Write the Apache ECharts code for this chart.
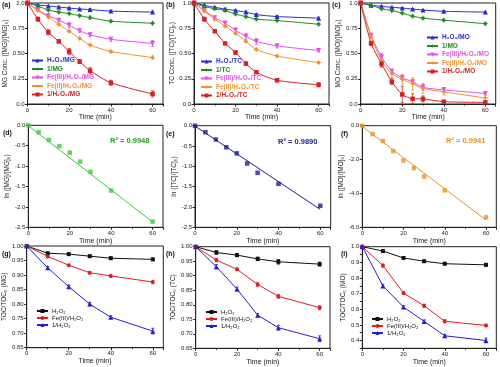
<!DOCTYPE html>
<html><head><meta charset="utf-8">
<script src="https://cdn.jsdelivr.net/npm/echarts@6/dist/echarts.min.js"></script>
<style>html,body{margin:0;padding:0;background:#fff}#c{width:500px;height:367px}</style>
</head><body><div id="c"></div>
<script>
// ---------- data ----------
const T1 = [0,5,10,15,20,25,30,40,60];
const T3 = [0,10,20,30,40,60];
const xTicks = [0,20,40,60];

// (a) MG
const aH2O2 = [1,0.98,0.97,0.96,0.95,0.94,0.935,0.92,0.91];
const a1    = [1,0.97,0.93,0.91,0.895,0.875,0.855,0.82,0.80];
const aFe3  = [1,0.93,0.875,0.83,0.78,0.725,0.685,0.64,0.60];
const aFe2  = [1,0.925,0.86,0.79,0.72,0.65,0.585,0.52,0.46];
const aCat  = [1,0.84,0.71,0.62,0.52,0.42,0.33,0.21,0.10];
const aH2O2e = [0,0.008,0.008,0.008,0.008,0.008,0.008,0.008,0.01];
const a1e    = [0,0.008,0.01,0.01,0.01,0.01,0.015,0.01,0.01];
const aFe3e  = [0,0.01,0.015,0.015,0.025,0.015,0.02,0.02,0.03];
const aFe2e  = [0,0.01,0.01,0.01,0.01,0.01,0.01,0.01,0.015];
const aCate  = [0,0.02,0.025,0.015,0.03,0.02,0.03,0.025,0.03];

// (b) TC
const bH2O2 = [1,0.977,0.957,0.94,0.925,0.91,0.885,0.866,0.85];
const b1    = [1,0.964,0.944,0.925,0.89,0.865,0.84,0.826,0.79];
const bFe3  = [1,0.925,0.855,0.80,0.73,0.67,0.62,0.575,0.53];
const bFe2  = [1,0.92,0.84,0.77,0.70,0.62,0.54,0.475,0.41];
const bCat  = [1,0.84,0.72,0.60,0.51,0.40,0.315,0.235,0.19];
const bH2O2e = [0,0.01,0.01,0.01,0.01,0.01,0.01,0.01,0.01];
const b1e    = [0,0.01,0.01,0.01,0.01,0.01,0.01,0.01,0.01];
const bFe3e  = [0,0.01,0.015,0.02,0.025,0.03,0.03,0.02,0.015];
const bFe2e  = [0,0.01,0.01,0.01,0.01,0.01,0.01,0.01,0.01];
const bCate  = [0,0.02,0.01,0.01,0.015,0.015,0.01,0.015,0.02];

// (c) MO
const cH2O2 = [1,0.977,0.967,0.957,0.95,0.94,0.93,0.918,0.91];
const c1    = [1,0.977,0.944,0.925,0.90,0.87,0.85,0.83,0.795];
const cFe3  = [1,0.68,0.465,0.325,0.26,0.22,0.165,0.14,0.105];
const cFe2  = [1,0.67,0.43,0.30,0.245,0.20,0.155,0.12,0.06];
const cCat  = [1,0.60,0.40,0.22,0.095,0.052,0.05,0.023,0.016];
const cH2O2e = [0,0.005,0.005,0.005,0.005,0.005,0.005,0.005,0.005];
const c1e    = [0,0.01,0.01,0.01,0.01,0.01,0.01,0.01,0.01];
const cFe3e  = [0,0.02,0.03,0.02,0.02,0.02,0.03,0.02,0.01];
const cFe2e  = [0,0.02,0.07,0.04,0.05,0.06,0.05,0.03,0.03];
const cCate  = [0,0.02,0.03,0.03,0.08,0.05,0.03,0.01,0.01];

// (d)(e)(f) ln plots
const dLn = [0,-0.17,-0.36,-0.51,-0.67,-0.89,-1.14,-1.60,-2.36];
const eLn = [0,-0.16,-0.34,-0.53,-0.68,-0.93,-1.16,-1.43,-1.97];
const fLn = [0,-0.49,-0.90,-1.50,-2.05,-2.50,-3.00,-3.82,-5.41];
const fitT = [0,60];
const dFit = [-0.01,-2.37];
const eFit = [-0.01,-2.06];
const fFit = [-0.05,-5.57];
const r2 = ['R\u00b2 = 0.9948','R\u00b2 = 0.9890','R\u00b2 = 0.9941'];

// (g)(h)(i) TOC
const gH2O2 = [1,0.975,0.972,0.965,0.958,0.954];
const gFe3  = [1,0.964,0.934,0.908,0.897,0.876];
const gCat  = [1,0.925,0.860,0.800,0.755,0.707];
const hH2O2 = [1,0.98,0.971,0.958,0.948,0.94];
const hFe3  = [1,0.954,0.922,0.870,0.829,0.79];
const hCat  = [1,0.931,0.854,0.764,0.721,0.683];
const iH2O2 = [1,0.972,0.928,0.907,0.891,0.884];
const iFe3  = [1,0.879,0.704,0.622,0.523,0.496];
const iCat  = [1,0.749,0.614,0.522,0.43,0.40];
const gH2O2e = [0,0.003,0.003,0.003,0.004,0.004];
const gFe3e  = [0,0.004,0.003,0.004,0.005,0.006];
const gCate  = [0,0.005,0.006,0.006,0.005,0.01];
const hH2O2e = [0,0.006,0.005,0.006,0.008,0.007];
const hFe3e  = [0,0.006,0.004,0.006,0.007,0.007];
const hCate  = [0,0.008,0.007,0.006,0.008,0.01];
const iH2O2e = [0,0.005,0.008,0.008,0.005,0.007];
const iFe3e  = [0,0.01,0.01,0.01,0.01,0.008];
const iCate  = [0,0.01,0.01,0.01,0.01,0.015];

const panelLabels = ['(a)','(b)','(c)','(d)','(e)','(f)','(g)','(h)','(i)'];
const yNames = ['MG Conc. ([MG]/[MG]\u2080)','TC Conc. ([TC]/[TC]\u2080)','MO Conc. ([MO]/[MO]\u2080)',
  'ln ([MG]/[MG]\u2080)','ln ([TC]/[TC]\u2080)','ln ([MO]/[MO]\u2080)',
  'TOC/TOC\u2080 (MG)','TOC/TOC\u2080 (TC)','TOC/TOC\u2080 (MO)'];
const namesA = ['H\u2082O\u2082/MG','1/MG','Fe(III)/H\u2082O\u2082/MG','Fe(II)/H\u2082O\u2082/MG','1/H\u2082O\u2082/MG'];
const namesB = ['H\u2082O\u2082/TC','1/TC','Fe(III)/H\u2082O\u2082/TC','Fe(II)/H\u2082O\u2082/TC','1/H\u2082O\u2082/TC'];
const namesC = ['H\u2082O\u2082/MO','1/MO','Fe(III)/H\u2082O\u2082/MO','Fe(II)/H\u2082O\u2082/MO','1/H\u2082O\u2082/MO'];
const names3 = ['H\u2082O\u2082','Fe(III)/H\u2082O\u2082','1/H\u2082O\u2082'];

// ---------- styles ----------
const FONT = 'Arial, "Liberation Sans", sans-serif';
const AX = '#222';
const C1 = ['#2b2bd0','#1f8a1f','#e64fe6','#f0922c','#d42222'];
const STAR = 'path://M0,-10 L3,-3 L10,0 L3,3 L0,10 L-3,3 L-10,0 L-3,-3 Z';
const SYM1 = ['triangle', STAR, 'triangle', STAR, 'rect'];
const ROT1 = [0,0,180,0,0];
const SZ1 = [5,6,5,6,4.5];
const C3 = ['#111','#e02020','#2222d0'];
const SYM3 = ['rect','circle','triangle'];
const SZ3 = [4,4,5];
const C2 = ['#3ccc3c','#1c1c90','#e8922c'];
const C2txt = ['#24a024','#1c1c90','#e8922c'];

const grids = [
  {left:27.5, top:2.5, width:135.5, height:101.5},
  {left:194, top:2.5, width:135, height:101.5},
  {left:360.7, top:2.5, width:135, height:101.5},
  {left:28.3, top:125.3, width:134.7, height:102},
  {left:195, top:125.7, width:135.7, height:101.6},
  {left:362.3, top:125.7, width:134, height:101.6},
  {left:26.7, top:246, width:136.6, height:101.7},
  {left:195.7, top:246.7, width:134.3, height:101.6},
  {left:362.3, top:246.7, width:134, height:101.6}
];

const yCfg = [
  {min:0,max:1,interval:0.25,fmt:v=>(v===0||v===1)?v.toFixed(1):v.toFixed(2),gap:15},
  {min:0,max:1,interval:0.25,fmt:v=>(v===0||v===1)?v.toFixed(1):v.toFixed(2),gap:15},
  {min:0,max:1,interval:0.25,fmt:v=>(v===0||v===1)?v.toFixed(1):v.toFixed(2),gap:15},
  {min:-2.5,max:0,interval:0.5,fmt:v=>v.toFixed(1),gap:16},
  {min:-2.5,max:0,interval:0.5,fmt:v=>v.toFixed(1),gap:16},
  {min:-6,max:0,interval:2,fmt:v=>v.toFixed(1),gap:16},
  {min:0.65,max:1,interval:0.05,fmt:v=>v.toFixed(2),gap:16},
  {min:0.65,max:1,interval:0.05,fmt:v=>v.toFixed(2),gap:16},
  {min:0.35,max:1,interval:0.05,fmt:v=>Math.abs(v*10-Math.round(v*10))<1e-6?v.toFixed(1):'',gap:14}
];

const option = {
  animation:false,
  backgroundColor:'#fff',
  textStyle:{fontFamily:FONT},
  grid: grids.map(g=>Object.assign({show:true,borderColor:AX,borderWidth:1,backgroundColor:'transparent',containLabel:false},g)),
  xAxis: grids.map((g,i)=>({
    gridIndex:i, type:'value', min:0, max:65, interval:20,
    name:'Time (min)', nameLocation:'middle', nameGap: i>=6?10:8,
    nameTextStyle:{fontSize:7, color:AX, fontFamily:FONT},
    axisLine:{show:true,onZero:false,lineStyle:{color:AX,width:1}},
    axisTick:{show:true,inside:false,length:2.5,lineStyle:{color:AX}},
    minorTick:{show:true,splitNumber:2,length:1.5,lineStyle:{color:AX}},
    splitLine:{show:false},
    axisLabel:{fontSize:6,margin:3,color:AX,fontFamily:FONT,
      formatter:v=>xTicks.indexOf(v)>=0?String(v):''}
  })),
  yAxis: grids.map((g,i)=>({
    gridIndex:i, type:'value', min:yCfg[i].min, max:yCfg[i].max, interval:yCfg[i].interval,
    name:yNames[i], nameLocation:'middle', nameGap:yCfg[i].gap,
    nameTextStyle:{fontSize:6.5, color:AX, fontFamily:FONT},
    axisLine:{show:true,onZero:false,lineStyle:{color:AX,width:1}},
    axisTick:{show:true,inside:false,length:2.5,lineStyle:{color:AX}},
    splitLine:{show:false},
    axisLabel:{fontSize:6,margin:3,color:AX,fontFamily:FONT,formatter:yCfg[i].fmt}
  })),
  legend: [],
  series: [],
  graphic: []
};

function errSeries(gi, xs, ys, es, color){
  const d = [];
  xs.forEach((x,k)=>{ if(es[k]>0) d.push([x, ys[k]-es[k], ys[k]+es[k]]); });
  return {type:'custom', xAxisIndex:gi, yAxisIndex:gi, data:d, silent:true, z:3,
    renderItem:(params, api)=>{
      const x=api.value(0), lo=api.value(1), hi=api.value(2);
      const p1=api.coord([x,lo]), p2=api.coord([x,hi]);
      const st={stroke:color,lineWidth:0.8};
      return {type:'group',children:[
        {type:'line',shape:{x1:p1[0],y1:p1[1],x2:p2[0],y2:p2[1]},style:st},
        {type:'line',shape:{x1:p1[0]-1.5,y1:p1[1],x2:p1[0]+1.5,y2:p1[1]},style:st},
        {type:'line',shape:{x1:p2[0]-1.5,y1:p2[1],x2:p2[0]+1.5,y2:p2[1]},style:st}
      ]};
    }};
}
function lineSeries(gi, name, xs, ys, color, sym, size, rot, smooth){
  return {type:'line', name:name, xAxisIndex:gi, yAxisIndex:gi,
    data: xs.map((x,k)=>[x,ys[k]]), smooth:smooth, symbol:sym, symbolSize:size, symbolRotate:rot||0,
    itemStyle:{color:color}, lineStyle:{color:color,width:1}, z:4};
}

// Row 1
const row1 = [
  {gi:0, names:namesA, ys:[aH2O2,a1,aFe3,aFe2,aCat], es:[aH2O2e,a1e,aFe3e,aFe2e,aCate], lg:{left:31,top:57}},
  {gi:1, names:namesB, ys:[bH2O2,b1,bFe3,bFe2,bCat], es:[bH2O2e,b1e,bFe3e,bFe2e,bCate], lg:{left:200,top:58}},
  {gi:2, names:namesC, ys:[cH2O2,c1,cFe3,cFe2,cCat], es:[cH2O2e,c1e,cFe3e,cFe2e,cCate], lg:{left:426,top:34}}
];
row1.forEach(p=>{
  p.ys.forEach((ys,k)=>{
    option.series.push(errSeries(p.gi, T1, ys, p.es[k], C1[k]));
    option.series.push(lineSeries(p.gi, p.names[k], T1, ys, C1[k], SYM1[k], SZ1[k], ROT1[k], 0.25));
  });
  option.legend.push({left:p.lg.left, top:p.lg.top, orient:'vertical', itemWidth:11, itemHeight:5, itemGap:1.5,
    selectedMode:false, padding:0,
    textStyle:{fontSize:6.5, fontWeight:'bold', fontFamily:FONT, padding:[0,0,0,-1]},
    data:p.names.map((n,k)=>({name:n, textStyle:{color:C1[k]}}))});
});

// Row 2
const row2 = [dLn, eLn, fLn];
const fits = [dFit, eFit, fFit];
const r2pos = [[132,142],[300,143],[468,142]];
row2.forEach((ys,k)=>{
  const gi = 3+k;
  option.series.push({type:'line', xAxisIndex:gi, yAxisIndex:gi, data:fitT.map((x,j)=>[x,fits[k][j]]),
    symbol:'none', lineStyle:{color:C2[k], width:1}, z:3, silent:true});
  option.series.push({type:'scatter', xAxisIndex:gi, yAxisIndex:gi, data:T1.map((x,j)=>[x,ys[j]]),
    symbol:'rect', symbolSize:4.5, itemStyle:{color:C2[k]}, z:4});
  option.graphic.push({type:'text', left:r2pos[k][0]-22, top:r2pos[k][1]-5,
    style:{text:r2[k], fill:C2txt[k], font:'bold 7.5px '+FONT}});
});

// Row 3
const row3 = [
  {gi:6, ys:[gH2O2,gFe3,gCat], es:[gH2O2e,gFe3e,gCate], lg:{left:36,top:308}},
  {gi:7, ys:[hH2O2,hFe3,hCat], es:[hH2O2e,hFe3e,hCate], lg:{left:205,top:309}},
  {gi:8, ys:[iH2O2,iFe3,iCat], es:[iH2O2e,iFe3e,iCate], lg:{left:371,top:316}}
];
row3.forEach(p=>{
  p.ys.forEach((ys,k)=>{
    option.series.push(errSeries(p.gi, T3, ys, p.es[k], C3[k]));
    option.series.push(lineSeries(p.gi, names3[k], T3, ys, C3[k], SYM3[k], SZ3[k], 0, false));
  });
  option.legend.push({left:p.lg.left, top:p.lg.top, orient:'vertical', itemWidth:11, itemHeight:5, itemGap:1,
    selectedMode:false, padding:0,
    textStyle:{fontSize:6, fontFamily:FONT, color:'#111', padding:[0,0,0,-1]},
    data:names3.slice()});
});

// Panel labels
const lblPos = [[2,2],[166,2],[332,2],[3,130],[166,131],[341,131],[2,251],[166,251],[341,251]];
panelLabels.forEach((t,k)=>{
  option.graphic.push({type:'text', left:lblPos[k][0], top:lblPos[k][1],
    style:{text:t, fill:'#111', font:'bold 7px '+FONT}});
});

const chart = echarts.init(document.getElementById('c'), null, {renderer:'canvas'});
chart.setOption(option);
</script></body></html>
